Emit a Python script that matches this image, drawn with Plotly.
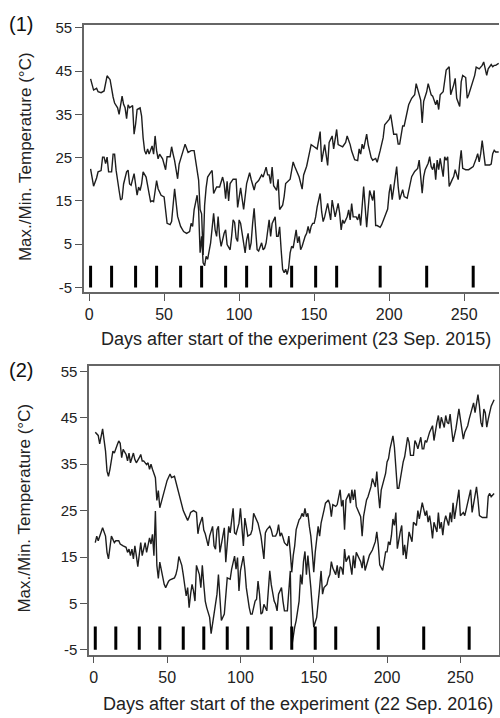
import plotly.graph_objects as go

# ---------------- data ----------------
sampling_days = [1, 15, 31, 45, 61, 75, 91, 105, 121, 135, 151, 165, 194, 225, 256]

x_ticks = [0, 50, 100, 150, 200, 250]
y_ticks = [-5, 5, 15, 25, 35, 45, 55]
y_ticktext = ["-5", "5", "15", "25", "35", "45", "55"]

# Panel (1): 2015/16 season
p1_max_days = ([1,3,5,6,8,10,12,14,16,17,19,20,22,23,24,25,26,27,29,30,31,32,34,35,36,37,38,39,40,42,43,44,45,46,47,49,51,52,54,55,56,57,59,60,62,64,66,68,70,71,73,74,75,76,77,78,79,81,82,83,85,87,89,90]
    + [91,92,93,94,96,98,99,101,102,103,105,107,108,110,111,113,115,116,118,119,120,121,122,123,125,126,127,129,130,131,134,136,137,139,140,142,143,145,146,148,150,152,154,155,157,159,160,162,163,165,166,169,171,172,174,175,177,179,180]
    + [181,182,183,185,186,188,189,191,192,194,196,197,200,201,203,205,206,207,209,210,212,213,215,217,218,220,221,222,223,225,226,228,229,231,232,233,234,236,237,238,240,241,243,244,245,247,248,249,251,252,253,255,257,258,260,262,263,265,266,268,269,270,271,273])
p1_max_vals = ([43.2,40.6,41,40.2,40,40.4,43.9,43,39,37.6,36.5,35,39.2,37.3,36.5,34,37.2,36.5,37,30.4,32.7,36.1,36.5,34.6,29.6,26.6,25.8,27,25.8,27.7,25.8,30,26.6,24.7,25.8,24.7,22.2,25.2,25.2,27.5,25.8,24.3,20.1,23.5,25.8,28.1,26.2,26.6,26.6,24.3,19.8,13,12,2.5,14,18,20.5,21.6,22,16.7,18.2,18.2,20.5,19]
    + [15.5,19.5,15,19,20,20,13.5,18,15,13,19,21.5,20,17.5,19,19.7,21,20.5,22.8,21,21,19,22.8,18.5,17.4,20,13,14,16,19,20,24,23,21,20.5,17.7,21,23,25,28,27.5,27,31,24,28,23.2,28.5,30,27,31.5,28,27.5,28.5,30,28,26.5,24.5,24.3,27]
    + [25.8,28.1,27,30.4,28,25,24.4,24.8,23.9,26.6,29.6,32.6,33.8,34.9,30.4,30.4,28.1,28.1,32.3,32.3,35.3,37.2,38.7,39.5,42.1,39.5,38.3,33,38,40.2,42.1,39.5,39.2,37.2,38.3,36.1,39.5,40.2,43.3,45.2,46,39.5,41.8,43.3,38.7,36.8,42.5,44,43.5,38.7,39.5,41.8,44,45.9,45.5,46.3,47.1,44,45.5,46.5,46,46.3,46.3,46.8])

p1_min_days = ([1,3,5,6,8,9,10,11,12,13,15,16,17,18,20,21,22,23,25,26,27,28,30,31,32,33,34,35,36,38,39,40,41,42,43,45,46,48,50,51,52,54,55,57,58,59,61,63,65,67,68,69,70,72,73,74,75,76,77,78,79,81,83,84,85,86,87,88,90]
    + [91,92,94,95,96,97,98,99,100,101,103,104,105,106,107,108,109,110,111,112,113,115,116,117,118,119,120,121,122,124,125,126,127,128,129,130,131,132,133,134,135,136,137,138,139,140,141,142,144,145,146,147,148,149,150,151,152,154,155,156,157,159,160,161,162,163,164,166,167,168,169,170,172,173,174,175,176,178,179,180]
    + [181,183,185,187,189,190,191,192,194,195,197,199,200,201,202,203,205,206,207,209,210,212,213,215,217,219,220,221,222,223,224,226,227,228,229,230,231,232,233,234,236,237,238,239,240,242,243,244,246,247,248,249,251,253,256,258,259,260,261,262,263,264,267,268,269,270,271,273])
p1_min_vals = ([22.4,18.4,20.3,21.7,22,25.1,25.1,23.6,25.1,21.7,21.7,25.8,25.8,22.1,17.4,15.2,15.5,18.9,21.7,22.1,18.9,18.6,21.3,18.6,16.3,18.2,17.4,18.9,21.7,20.5,18.9,16.7,14.8,15,14.8,19.7,17.8,16.3,15.9,12.5,9.8,9.5,10.2,17.8,14.4,11.4,9.1,7.9,7.5,7.9,9.8,9.1,12.9,16.3,12.9,3,6.8,0.7,0,2.2,1.5,5.3,12.1,8.3,6.8,11.4,6.8,4.5,7.5]
    + [8.3,4.9,3.7,6.8,10.6,10,6.4,5.6,10.6,9.8,4.5,3,6,7.5,3.7,5.3,9.8,13.3,8.3,3.7,3.4,5.3,3.7,4.1,5.3,8.3,10.6,6.8,9.8,11.3,6.8,6.8,9,3.7,-0.8,-1.6,-0.8,-2,-0.5,3,4.5,4.1,6.8,8.3,5.3,6.8,3.7,4.5,6.8,7.5,9.1,7.5,9.1,9.8,9.8,11.3,13.6,16.7,12.5,10.2,11.3,14.4,12.5,10.6,15.2,12.9,11.3,14.4,12.1,8.3,10.6,9.8,11.3,12.9,10.6,14.4,11.3,11.3,10.6,12]
    + [9.3,18.3,8.9,17.4,15.1,17.4,9.3,9.3,8.9,9.5,11.2,13.1,16.9,18.8,15.3,18.3,22.9,18.3,15.3,17.6,16,15.6,17.6,20.6,21.8,22.5,24.4,20.6,16.8,20.6,22.2,23.7,25.2,22.9,22.2,23.7,19.9,24.4,22.2,24.8,20.6,25.2,24.4,25.2,18.3,19.9,20.6,22.2,19.9,23.7,26.7,22.5,22.2,22.2,22.9,24.8,25.9,24,25.9,28.9,25.2,23.3,23.3,23.5,25.9,26.7,26.3,26.3])

# Panel (2): 2016/17 season
p2_max_days = ([1,3,4,5,6,8,9,10,11,13,14,16,17,18,19,20,22,23,24,25,27,28,29,31,32,33,34,36,37,38,39,40,42,43,44,45,47,48,50,52,53,55,56,58,60,61,62,64,65,66,68,70,71,72,74,75,76,78,79,81,82,83,84,85,86,87,89,90]
    + [92,93,95,96,97,99,100,102,103,104,105,107,108,109,111,112,114,115,116,117,118,120,121,122,124,125,126,127,128,129,130,132,133,134,135,136,137,138,140,141,142,143,144,145,146,147,148,149,150,151,152,153,154,155,157,158,160,161,162,163,165,166,168,169,170,171,172,174,175,176,177,178,179,180,182,183]
    + [184,186,187,189,190,192,193,194,195,196,198,199,200,201,202,204,205,206,207,208,210,211,212,214,215,216,218,219,220,221,223,224,225,226,227,229,231,232,234,235,236,237,238,239,240,241,242,243,244,245,247,248,249,250,251,252,253,255,256,257,259,260,261,262,263,264,265,266,267,268,269,271,273])
p2_max_vals = ([41.9,41.2,39.4,41.5,42.6,37.8,33.5,32.4,33.9,37.8,37.4,39.2,40,39.5,36.4,38.2,37.1,35.7,37.4,35.3,37.4,36,35.3,36.4,37.1,35.7,35.7,34.9,35.3,33.9,35,33.9,32.1,27.2,29.3,25.6,28,29.7,31.5,32.9,32.1,32.4,31.1,28.6,25.7,25,24.3,22.9,23.6,24.6,25,24.6,20,21.8,23.6,20.8,20,17.4,19.5,21.6,17.4,16.7,20.9,21.6,16,18.1,21.3,13.9]
    + [21.6,20.2,25.5,20.2,19.9,22.3,25.5,17.4,23.4,21.6,19.5,19.9,20.9,24.4,23,22.3,19.5,17.4,14.6,20.2,20.9,21.6,20.9,19.5,19.5,20.2,22,19.5,20.2,19.2,18.1,17.4,19.5,16,11.7,15.3,17.4,20.9,23,23.4,24.4,23.7,25.5,23.7,24.4,21.6,19.5,16,11.7,16,19.5,21.6,19.5,22.3,25.1,26.6,27.3,26.3,23.7,26.3,25.9,26.3,29.5,25.9,27.3,20.9,27.3,28.7,26.6,29.5,27.3,29.5,25.9,25.1,23.7,19.5]
    + [23.8,27.3,28,30.1,31.9,30.1,33.4,29,25.5,29.4,31.6,33,35.5,36.2,38.3,41.1,38.7,34.4,29.8,29.8,34.4,35.5,36.6,40.8,39.7,36.9,36.9,40.1,39.4,38.3,40.8,38.3,38.3,40.1,39.7,41.9,43.3,40.1,44,45.5,42.7,45.1,44,42.9,45.5,44,43.7,45.8,42.7,39.8,42.7,44.7,46.9,44.7,42.7,40.4,41.9,43.3,44.7,46.1,48.2,46.1,48.2,50,47.5,44,43,46.9,46.1,43,44.7,47.5,48.9])

p2_min_days = ([1,2,3,5,6,8,9,10,11,12,14,15,17,18,20,22,23,24,25,26,27,28,29,30,32,33,34,35,36,38,39,40,41,42,43,44,45,46,48,49,50,51,52,55,56,57,58,60,61,62,63,64,65,66,67,68,69,70,72,73,74,75,76,77,79,80,81,82,84,85,86,87,89,90,91]
    + [93,94,96,97,98,99,100,102,103,104,106,107,108,110,111,112,113,114,115,116,118,119,120,121,123,124,125,126,128,129,130,132,133,134,135,136,137,138,140,141,142,143,144,145,146,148,149,150,152,153,154,155,156,157,159,160,161,162,163,165,166,167,168,169,170,171,172,174,175,176,177,178,179,181,182,183,184]
    + [185,187,188,190,192,193,194,195,197,198,199,200,201,202,203,204,205,206,207,209,210,211,212,213,214,215,217,218,220,221,222,223,224,226,227,228,229,230,231,232,234,235,236,237,238,239,240,242,243,244,245,246,247,249,250,252,253,254,255,257,258,259,261,262,263,265,268,269,270,271,273])
p2_min_vals = ([18.1,19.5,18.5,20.2,21.3,19.5,16,14.6,17.4,19.5,18.1,18.5,18.5,17.8,17.4,17.1,16,16.7,15.3,16.7,14.6,17.4,15.3,12.9,18.1,15.3,16.7,18.1,16,19.1,17.8,19.9,15.3,24.9,13.2,10.4,13.9,12.2,9.1,8.4,9.1,9.8,10.1,10.5,11.2,12.6,15.1,13.2,11.2,9.1,6.6,8.4,4.1,7,9.1,7.7,5.5,13.2,11.2,8.4,13.2,9.1,5.5,4.1,2,-1.5,0.6,2.7,7,11.2,4.8,1.3,2.7,7,10.5]
    + [10.2,12.4,15.2,12.4,14.9,7.7,12,15.2,12.4,8.4,4.1,2.7,2.7,5.5,5.9,9.8,7,2.7,3,4.8,3.4,9.1,12,9.1,5.5,4.8,3.4,7,8.4,5.5,3.4,3.4,8.4,12,-4.3,-1.5,-0.1,1.3,5.5,11.2,9.1,14,16.2,11.2,15.3,8.4,4.1,-0.1,2,4.8,8.4,12,7,8.4,9.1,10.5,11.2,14,12.6,11.2,13.2,10.5,12.9,12.6,11.2,16.7,14,15.3,12.6,11.2,15.3,12.6,16,14.6,14,12.6,15.3]
    + [12.1,14,15.4,16.5,18.3,20.4,17.6,13.3,12.1,14,16.1,16.1,18.3,17.6,19.7,23.2,21.8,24.6,16.8,20.4,21.8,15.4,17.6,14.6,17.6,20.4,18.3,22.5,21.8,25,23.2,24.6,26.7,23.9,25,22.5,23.9,21.8,19,22.5,20.4,24.6,21.1,22.5,19.7,22.5,23.9,21.8,24.6,22.5,26.7,23.2,25.3,29.5,23.9,24.6,23.9,25.3,26.7,29.5,24.6,26.7,30.1,27.4,23.9,23.5,23.5,28.1,28.7,28,28.7])

for a, b in [(p1_max_days, p1_max_vals), (p1_min_days, p1_min_vals),
             (p2_max_days, p2_max_vals), (p2_min_days, p2_min_vals)]:
    assert len(a) == len(b), (len(a), len(b))

x_titles = ["Days after start of the experiment (23 Sep. 2015)",
            "Days after start of the experiment (22 Sep. 2016)"]
y_title = "Max./Min. Temperature (°C)"
panel_labels = ["(1)", "(2)"]

# ---------------- figure ----------------
LINE = "#1e1e1e"
FONT = "Liberation Sans, Arial, sans-serif"
fig = go.Figure()

def sample_marks(days, bottom=-5, top=0):
    xs, ys = [], []
    for d in days:
        xs += [d, d, None]
        ys += [bottom, top, None]
    return xs, ys

panels = [
    ("x", "y", p1_max_days, p1_max_vals, p1_min_days, p1_min_vals),
    ("x2", "y2", p2_max_days, p2_max_vals, p2_min_days, p2_min_vals),
]
for xa, ya, dmx, vmx, dmn, vmn in panels:
    fig.add_trace(go.Scatter(x=dmx, y=vmx, mode="lines", xaxis=xa, yaxis=ya,
                             line=dict(color=LINE, width=1.4), showlegend=False))
    fig.add_trace(go.Scatter(x=dmn, y=vmn, mode="lines", xaxis=xa, yaxis=ya,
                             line=dict(color=LINE, width=1.4), showlegend=False))
    sx, sy = sample_marks(sampling_days)
    fig.add_trace(go.Scatter(x=sx, y=sy, mode="lines", xaxis=xa, yaxis=ya,
                             line=dict(color="#000000", width=3), showlegend=False))

common_x = dict(tickvals=x_ticks, ticks="outside", ticklen=7, tickwidth=1.3, tickcolor="#555",
                showline=True, linecolor="#666", linewidth=1.5, showgrid=False, zeroline=False,
                tickfont=dict(family=FONT, size=16, color="#222"))
common_y = dict(tickvals=y_ticks, ticktext=y_ticktext, ticks="outside", ticklen=7, tickwidth=1.3,
                tickcolor="#555", showline=True, linecolor="#666", linewidth=1.5, showgrid=False,
                zeroline=False, tickfont=dict(family=FONT, size=15, color="#222"))

fig.update_layout(
    width=500, height=718,
    margin=dict(l=0, r=0, t=0, b=0),
    paper_bgcolor="white", plot_bgcolor="white",
    showlegend=False,
    xaxis=dict(domain=[0.168, 1.0], range=[-3.5, 273.2], anchor="y", mirror=True, **common_x),
    yaxis=dict(domain=[0.5961, 0.9735], range=[-6.14, 55.68], anchor="x", mirror=False, **common_y),
    xaxis2=dict(domain=[0.1786, 0.999], range=[-3.2, 276], anchor="y2", mirror=True, **common_x),
    yaxis2=dict(domain=[0.0850, 0.4916], range=[-6.06, 56.06], anchor="x2", mirror=True, **common_y),
)

H = 718.0
annotations = []
for txt, yc in [(panel_labels[0], 18), (panel_labels[1], 369)]:
    annotations.append(dict(text=txt, xref="paper", yref="paper", x=7 / 500.0,
                            y=1 - yc / H, xanchor="left", yanchor="middle", showarrow=False,
                            font=dict(family=FONT, size=20, color="#111")))
for yc in [152, 508]:
    annotations.append(dict(text=y_title, xref="paper", yref="paper", x=25 / 500.0, y=1 - yc / H,
                            xanchor="center", yanchor="middle", textangle=-90, showarrow=False,
                            font=dict(family=FONT, size=17, color="#222")))
for txt, xc, yc in [(x_titles[0], 297, 337), (x_titles[1], 299, 707)]:
    annotations.append(dict(text=txt, xref="paper", yref="paper", x=xc / 500.0, y=1 - yc / H,
                            xanchor="center", yanchor="middle", showarrow=False,
                            font=dict(family=FONT, size=18, color="#222")))
fig.update_layout(annotations=annotations)

fig.write_html("out.html")
